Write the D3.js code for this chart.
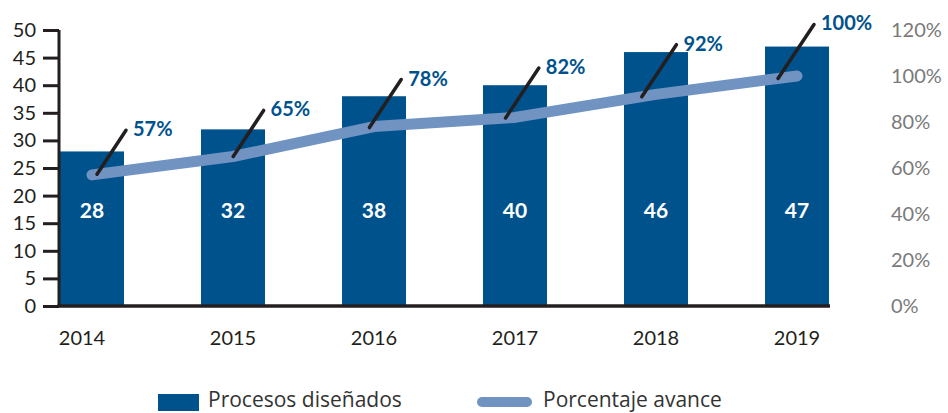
<!DOCTYPE html>
<html>
<head>
<meta charset="utf-8">
<script src="https://cdn.jsdelivr.net/npm/d3@7"></script>
<style>
  body { margin: 0; background: #fff; }
  svg text { font-family: Lato, "Open Sans", sans-serif; }
</style>
</head>
<body>
<div id="chart-container"></div>
<script>
// chart data
const years = ["2014", "2015", "2016", "2017", "2018", "2019"];
const procesos = [28, 32, 38, 40, 46, 47];
const avance = [0.57, 0.65, 0.78, 0.82, 0.92, 1.00];
const leftTicks = [0, 5, 10, 15, 20, 25, 30, 35, 40, 45, 50];
const rightTicks = [0, 0.2, 0.4, 0.6, 0.8, 1.0, 1.2];

const barColor = "#00528c";
const lineColor = "#7093c2";
const darkLine = "#231f20";

const width = 948, height = 413;

const svg = d3.select("#chart-container").append("svg")
    .attr("width", width)
    .attr("height", height);

const x = d3.scaleBand()
    .domain(years)
    .range([59, 830])
    .paddingInner(0.546)
    .paddingOuter(0.007);

const yLeft = d3.scaleLinear().domain([0, 50]).range([306, 30]);
const yRight = d3.scaleLinear().domain([0, 1.2]).range([306, 30]);

// bars
svg.selectAll(".bar")
    .data(procesos)
    .enter().append("rect")
    .attr("class", "bar")
    .attr("x", (d, i) => x(years[i]))
    .attr("y", d => yLeft(d))
    .attr("width", x.bandwidth())
    .attr("height", d => yLeft(0) - yLeft(d))
    .attr("fill", barColor);

// values inside bars
svg.selectAll(".bar-label")
    .data(procesos)
    .enter().append("text")
    .attr("class", "bar-label")
    .attr("x", (d, i) => x(years[i]) + x.bandwidth() / 2)
    .attr("y", yLeft(16))
    .attr("text-anchor", "middle")
    .attr("fill", "#fff")
    .attr("font-size", 21)
    .attr("font-weight", "bold")
    .text(d => d);

// left axis
const leftAxis = svg.append("g")
    .attr("transform", "translate(59,0)")
    .call(d3.axisLeft(yLeft).tickValues(leftTicks).tickSize(16).tickPadding(7));
leftAxis.select(".domain").attr("stroke", darkLine).attr("stroke-width", 3)
    .attr("d", `M0,${yLeft(50)}V${yLeft(0)}`);
leftAxis.selectAll(".tick line").attr("stroke", darkLine).attr("stroke-width", 3);
leftAxis.selectAll(".tick text").attr("font-size", 20).attr("fill", "#231f20");

// baseline
const bottomAxis = svg.append("g")
    .attr("transform", `translate(0,${yLeft(0)})`)
    .call(d3.axisBottom(x).tickSize(0).tickPadding(25));
bottomAxis.select(".domain").attr("stroke", darkLine).attr("stroke-width", 3.5)
    .attr("d", "M57.5,0H830");
bottomAxis.selectAll(".tick text").attr("font-size", 20).attr("fill", "#231f20")
    .attr("dx", (d, i) => i === 0 ? -10 : 0);

// right axis (labels only)
const rightAxis = svg.append("g")
    .attr("transform", "translate(891,0)")
    .call(d3.axisRight(yRight).tickValues(rightTicks).tickSize(0).tickPadding(0)
        .tickFormat(d3.format(".0%")));
rightAxis.select(".domain").remove();
rightAxis.selectAll(".tick text").attr("font-size", 20).attr("fill", "#7a7a7a");

// percentage line
const pts = avance.map((d, i) => [x(years[i]) + x.bandwidth() / 2, yRight(d)]);
svg.append("path")
    .datum(pts)
    .attr("d", d3.line())
    .attr("fill", "none")
    .attr("stroke", lineColor)
    .attr("stroke-width", 11)
    .attr("stroke-linecap", "round")
    .attr("stroke-linejoin", "round");

// leader lines start on the line, drifting left for later years
const step = x.step();
const anchors = pts.map((p, i) => {
    const t = (5 - 4.8 * i) / step;
    const q = t >= 0 ? pts[i + 1] : pts[i - 1];
    return d3.interpolate(p, q)(Math.abs(t));
});

const lead = svg.selectAll(".lead")
    .data(anchors)
    .enter().append("g")
    .attr("class", "lead");
lead.append("line")
    .attr("x1", d => d[0])
    .attr("y1", d => d[1])
    .attr("x2", (d, i) => d[0] + 29 + 1.4 * i)
    .attr("y2", (d, i) => d[1] - 44 - 2 * i)
    .attr("stroke", darkLine)
    .attr("stroke-width", 3.5)
    .attr("stroke-linecap", "round");
lead.append("text")
    .attr("x", (d, i) => d[0] + 36 + 1.4 * i)
    .attr("y", (d, i) => d[1] - 38 - 2 * i)
    .attr("fill", barColor)
    .attr("font-size", 20)
    .attr("font-weight", "bold")
    .text((d, i) => d3.format(".0%")(avance[i]));

// legend
svg.append("rect")
    .attr("x", 158).attr("y", 394)
    .attr("width", 41).attr("height", 17)
    .attr("fill", barColor);
svg.append("text")
    .attr("x", 208).attr("y", 407)
    .attr("font-size", 21)
    .style("font-family", "'Open Sans', sans-serif")
    .attr("fill", "#333")
    .text("Procesos diseñados");
svg.append("line")
    .attr("x1", 482).attr("x2", 527)
    .attr("y1", 402).attr("y2", 402)
    .attr("stroke", lineColor)
    .attr("stroke-width", 10)
    .attr("stroke-linecap", "round");
svg.append("text")
    .attr("x", 543).attr("y", 407)
    .attr("font-size", 21)
    .style("font-family", "'Open Sans', sans-serif")
    .attr("fill", "#333")
    .text("Porcentaje avance");
</script>
</body>
</html>
